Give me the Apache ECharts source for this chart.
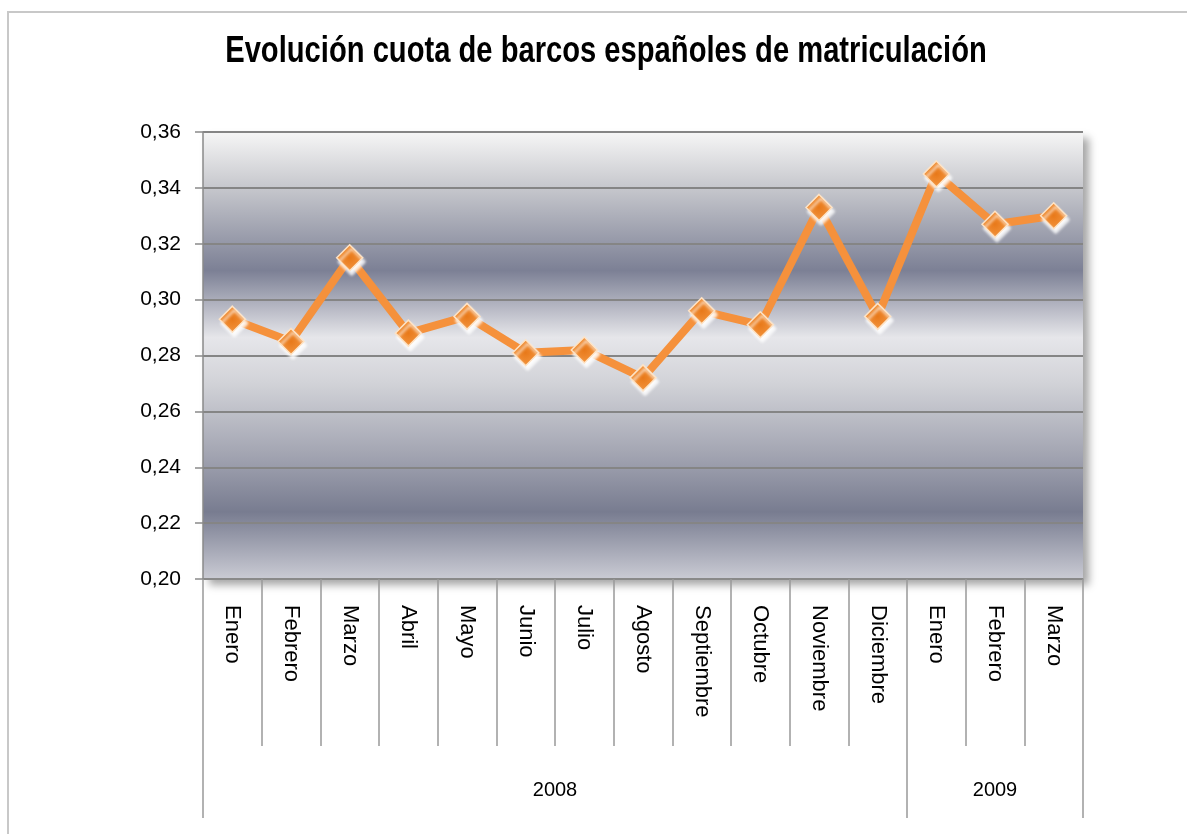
<!DOCTYPE html>
<html>
<head>
<meta charset="utf-8">
<script src="https://cdn.jsdelivr.net/npm/echarts@6/dist/echarts.min.js"></script>
<style>
  html, body { margin: 0; padding: 0; background: #fff; }
  #chart { width: 1187px; height: 834px; }
</style>
</head>
<body>
<div id="chart"></div>
<script>
// datos
const titleText = 'Evolución cuota de barcos españoles de matriculación'
const months = ['Enero', 'Febrero', 'Marzo', 'Abril', 'Mayo', 'Junio', 'Julio', 'Agosto',
  'Septiembre', 'Octubre', 'Noviembre', 'Diciembre', 'Enero', 'Febrero', 'Marzo']
const cuota = [0.293, 0.285, 0.315, 0.288, 0.294, 0.281, 0.282, 0.272,
  0.296, 0.291, 0.333, 0.294, 0.345, 0.327, 0.330]
const years = ['2008', '2009']
const yearSpans = [12, 3]
const yTicks = [0.20, 0.22, 0.24, 0.26, 0.28, 0.30, 0.32, 0.34, 0.36]

// separadores y centros de los grupos de años
const yearBounds = [0]
const yearCenters = []
yearSpans.forEach((n, i) => {
  const start = yearBounds[i]
  yearBounds.push(start + n)
  yearCenters.push(start + n / 2)
})

const chart = echarts.init(document.getElementById('chart'))

const option = {
  animation: false,
  backgroundColor: '#fff',
  textStyle: {
    fontFamily: '"Liberation Sans", Arial, sans-serif',
    color: '#000'
  },
  graphic: [
    {
      type: 'rect',
      shape: { x: 8, y: 12, width: 1300, height: 1000 },
      style: { fill: 'none', stroke: '#c8c8c8', lineWidth: 2 },
      silent: true
    },
    {
      type: 'text',
      x: 606,
      y: 52,
      scaleX: 0.81,
      style: {
        text: titleText,
        font: 'bold 36px "Liberation Sans", Arial, sans-serif',
        fill: '#000',
        textAlign: 'center',
        textVerticalAlign: 'middle'
      }
    }
  ],
  grid: {
    left: 203,
    right: 104,
    top: 132,
    bottom: 255,
    show: true,
    borderWidth: 0,
    backgroundColor: {
      type: 'linear', x: 0, y: 0, x2: 0, y2: 1,
      colorStops: [
        { offset: 0, color: '#f6f6f6' },
        { offset: 0.12, color: '#c8c9ce' },
        { offset: 0.31, color: '#7c8095' },
        { offset: 0.46, color: '#e6e6ea' },
        { offset: 0.56, color: '#d2d3d8' },
        { offset: 0.72, color: '#a3a5b2' },
        { offset: 0.85, color: '#787c90' },
        { offset: 1, color: '#cacbd4' }
      ]
    },
    shadowColor: 'rgba(0,0,0,0.35)',
    shadowBlur: 8,
    shadowOffsetX: 6,
    shadowOffsetY: 6
  },
  xAxis: [
    {
      type: 'category',
      data: months,
      boundaryGap: true,
      axisLine: { show: true, lineStyle: { color: '#8a8a8a', width: 1.5 } },
      axisTick: {
        show: true,
        alignWithLabel: false,
        interval: 0,
        length: 167,
        lineStyle: { color: '#999', width: 1.5 }
      },
      axisLabel: {
        interval: 0,
        rotate: -90,
        margin: 26,
        fontSize: 22,
        color: '#000'
      },
      splitLine: { show: false }
    },
    {
      type: 'value',
      position: 'bottom',
      offset: 167,
      min: 0,
      max: 15,
      axisLine: { show: false },
      axisTick: {
        show: true,
        customValues: yearBounds,
        length: 72,
        lineStyle: { color: '#999', width: 1.5 }
      },
      axisLabel: {
        customValues: yearCenters,
        margin: 34,
        fontSize: 20,
        color: '#000',
        formatter: function (v) {
          return years[yearCenters.indexOf(v)] || ''
        }
      },
      splitLine: { show: false }
    }
  ],
  yAxis: {
    type: 'value',
    min: yTicks[0],
    max: yTicks[yTicks.length - 1],
    interval: 0.02,
    axisLine: { show: true, lineStyle: { color: '#8a8a8a', width: 1.5 } },
    axisTick: { show: true, length: 8, lineStyle: { color: '#8a8a8a', width: 1.5 } },
    axisLabel: {
      margin: 22,
      fontSize: 21,
      color: '#000',
      formatter: function (v) {
        return v.toFixed(2).replace('.', ',')
      }
    },
    splitLine: { show: true, lineStyle: { color: '#858585', width: 2 } }
  },
  series: [
    {
      type: 'line',
      data: cuota,
      xAxisIndex: 0,
      symbol: 'diamond',
      symbolSize: 26,
      lineStyle: { color: '#f5913c', width: 8 },
      itemStyle: {
        color: {
          type: 'radial', x: 0.5, y: 0.5, r: 0.6,
          colorStops: [
            { offset: 0, color: '#e8791a' },
            { offset: 1, color: '#f59a45' }
          ]
        },
        borderColor: '#fde3c6',
        borderWidth: 1.5,
        shadowColor: 'rgba(255,255,255,0.95)',
        shadowBlur: 3,
        shadowOffsetX: 2,
        shadowOffsetY: 4
      },
      z: 5
    }
  ]
}

chart.setOption(option)
</script>
</body>
</html>
